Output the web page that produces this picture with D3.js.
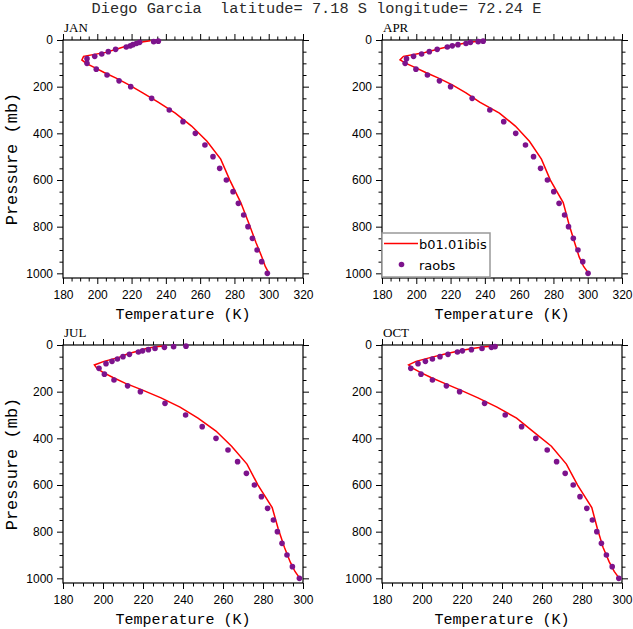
<!DOCTYPE html>
<html>
<head>
<meta charset="utf-8">
<script src="https://cdn.jsdelivr.net/npm/d3@7"></script>
<style>
  body { margin: 0; background: #fff; }
  .tick text { font-family: "Liberation Sans", sans-serif; font-size: 12px; fill: #000; }
</style>
</head>
<body>
<div id="chart"></div>
<script>
// raob pressure levels (mb)
var obsLevels = [5, 7, 10, 15, 20, 25, 30, 40, 50, 60, 70, 80, 100, 125, 150, 175, 200,
  250, 300, 350, 400, 450, 500, 550, 600, 650, 700, 750, 800, 850, 900, 950, 1000];

var janObs = [235.6, 232.9, 224.7, 222.8, 220.8, 219.3, 216.9, 210.7, 206.4, 202.6, 198.5, 194.0, 194.0, 199.4, 205.7, 212.7, 219.5,
  231.7, 242.0, 250.0, 257.2, 262.8, 267.5, 271.4, 275.3, 279.2, 282.3, 285.4, 287.9, 290.5, 293.2, 295.9, 299.2];
var aprObs = [239.0, 236.1, 231.6, 229.0, 224.3, 221.0, 218.1, 212.2, 207.6, 203.1, 198.4, 194.3, 193.5, 199.8, 206.5, 213.5, 220.0,
  232.6, 242.9, 251.0, 258.0, 263.7, 268.4, 272.5, 276.5, 280.2, 283.3, 286.5, 288.8, 291.6, 294.3, 297.1, 300.2];
var julObs = [241.5, 235.3, 230.7, 226.0, 222.7, 219.8, 217.7, 213.2, 210.0, 207.2, 204.5, 201.5, 198.0, 200.7, 205.5, 212.3, 218.7,
  231.0, 241.3, 249.6, 256.5, 262.5, 267.3, 271.7, 275.7, 279.2, 282.3, 285.2, 287.2, 289.5, 292.0, 294.7, 298.2];
var octObs = [null, 236.5, 234.7, 230.0, 224.7, 220.2, 217.7, 213.0, 209.0, 205.2, 201.7, 198.0, 194.4, 199.5, 205.2, 212.2, 218.8,
  231.3, 241.6, 249.8, 256.9, 262.6, 267.3, 271.6, 275.6, 279.0, 282.4, 285.2, 287.4, 289.7, 292.2, 295.1, 298.4];

// model levels (mb)
var modelLevels = [3.54, 7.39, 13.97, 23.94, 37.23, 53.11, 70.06, 85.44, 100.51, 118.25, 139.12, 163.66, 192.54,
  226.51, 266.48, 313.50, 368.82, 433.90, 510.46, 600.52, 696.80, 787.70, 867.16, 929.65, 970.55, 992.56];

var janModel = [231.0, 227.0, 222.5, 218.0, 212.0, 205.0, 192.0, 191.0, 193.5, 198.5, 204.0, 211.0, 218.5,
  226.5, 235.5, 245.5, 255.0, 264.0, 272.0, 277.3, 283.7, 288.5, 292.5, 296.0, 298.0, 299.6];
var aprModel = [239.5, 233.5, 228.0, 221.5, 213.5, 205.0, 192.5, 190.5, 194.0, 199.5, 205.5, 213.0, 221.0,
  229.0, 237.0, 248.5, 257.8, 266.0, 273.0, 278.2, 285.7, 289.0, 292.3, 295.0, 297.6, 299.8];
var julModel = [231.8, 226.5, 222.0, 218.5, 212.5, 208.0, 200.5, 195.7, 197.0, 200.2, 205.0, 211.0, 219.5,
  229.0, 238.5, 247.5, 256.5, 264.3, 272.0, 277.5, 284.6, 287.6, 290.7, 293.6, 296.0, 297.8];
var octModel = [238.0, 231.5, 226.0, 219.5, 212.0, 204.5, 197.0, 193.3, 195.5, 199.4, 204.5, 211.0, 219.0,
  228.0, 237.5, 247.3, 255.3, 264.7, 272.2, 277.8, 284.9, 287.7, 290.5, 293.6, 296.1, 298.0];

var monthNames = ["JAN", "APR", "JUL", "OCT"];
var xMaxes = [320, 320, 300, 300];
var seriesNames = ["b01.01ibis", "raobs"];
var titleText = "Diego Garcia  latitude= 7.18 S longitude= 72.24 E";

var svgWidth = 633;
var svgHeight = 629;
var panelW = 240;
var panelH = 238;
var lineColor = "#ff0000";
var dotColor = "#7d138c";

var svg = d3.select("#chart")
  .append("svg")
  .attr("width", svgWidth)
  .attr("height", svgHeight);

svg.append("text")
  .attr("x", 316.5)
  .attr("y", 13)
  .attr("text-anchor", "middle")
  .attr("font-family", "Liberation Mono, monospace")
  .attr("font-size", "15.3px")
  .attr("fill", "#2a2a2a")
  .style("white-space", "pre")
  .text(titleText);

var panels = [
  { obs: janObs, model: janModel, left: 63, top: 40 },
  { obs: aprObs, model: aprModel, left: 382, top: 40 },
  { obs: julObs, model: julModel, left: 63, top: 345 },
  { obs: octObs, model: octModel, left: 382, top: 345 }
];

panels.forEach(function(p, i) {
  var g = svg.append("g").attr("transform", `translate(${p.left}, ${p.top})`);
  var xMax = xMaxes[i];

  var x = d3.scaleLinear().domain([180, xMax]).range([0, panelW]);
  var y = d3.scaleLinear().domain([0, 1020]).range([0, panelH]);

  var xMajor = d3.range(180, xMax + 1, 20);
  var xMinor = d3.range(180, xMax + 1, 5).filter(d => d % 20 !== 0);
  var yMajor = d3.range(0, 1001, 200);
  var yMinor = d3.range(0, 1001, 50).filter(d => d % 200 !== 0);

  // minor ticks, all four sides
  g.append("g").attr("transform", `translate(0, ${panelH})`)
    .call(d3.axisBottom(x).tickValues(xMinor).tickSize(3.5).tickSizeOuter(0).tickFormat(""));
  g.append("g")
    .call(d3.axisTop(x).tickValues(xMinor).tickSize(3.5).tickSizeOuter(0).tickFormat(""));
  g.append("g")
    .call(d3.axisLeft(y).tickValues(yMinor).tickSize(3.5).tickSizeOuter(0).tickFormat(""));
  g.append("g").attr("transform", `translate(${panelW}, 0)`)
    .call(d3.axisRight(y).tickValues(yMinor).tickSize(3.5).tickSizeOuter(0).tickFormat(""));

  // major ticks
  g.append("g").attr("transform", `translate(0, ${panelH})`)
    .call(d3.axisBottom(x).tickValues(xMajor).tickSize(6).tickSizeOuter(0).tickPadding(6).tickFormat(d3.format("d")));
  g.append("g")
    .call(d3.axisTop(x).tickValues(xMajor).tickSize(6).tickSizeOuter(0).tickFormat(""));
  g.append("g")
    .call(d3.axisLeft(y).tickValues(yMajor).tickSize(6).tickSizeOuter(0).tickPadding(4).tickFormat(d3.format("d")));
  g.append("g").attr("transform", `translate(${panelW}, 0)`)
    .call(d3.axisRight(y).tickValues(yMajor).tickSize(6).tickSizeOuter(0).tickFormat(""));

  g.selectAll(".domain").remove();
  g.selectAll(".tick line").attr("stroke", "#000").attr("stroke-width", 1);

  g.append("rect")
    .attr("width", panelW).attr("height", panelH)
    .attr("fill", "none").attr("stroke", "#000").attr("stroke-width", 1.2);

  // model profile
  var line = d3.line()
    .x(d => x(d[1]))
    .y(d => y(d[0]));
  g.append("path")
    .datum(d3.zip(modelLevels, p.model))
    .attr("d", line)
    .attr("fill", "none")
    .attr("stroke", lineColor)
    .attr("stroke-width", 1.5);

  // raobs
  g.selectAll("circle.obs")
    .data(d3.zip(obsLevels, p.obs).filter(d => d[1] != null))
    .enter()
    .append("circle")
    .classed("obs", true)
    .attr("cx", d => x(d[1]))
    .attr("cy", d => y(d[0]))
    .attr("r", 2.8)
    .attr("fill", dotColor);

  // month label
  g.append("text")
    .attr("x", 1).attr("y", -8)
    .attr("font-family", "Liberation Serif, serif")
    .attr("font-size", "13px")
    .text(monthNames[i]);

  // axis titles
  g.append("text")
    .attr("x", panelW / 2).attr("y", panelH + 41)
    .attr("text-anchor", "middle")
    .attr("font-family", "Liberation Mono, monospace")
    .attr("font-size", "15px")
    .text("Temperature (K)");

  if (i % 2 === 0) {
    g.append("text")
      .attr("transform", `translate(-46, ${panelH / 2}) rotate(-90)`)
      .attr("text-anchor", "middle")
      .attr("font-family", "Liberation Mono, monospace")
      .attr("font-size", "17px")
      .text("Pressure (mb)");
  }

  // legend on the APR panel
  if (i === 1) {
    var lg = g.append("g").attr("transform", `translate(0, ${panelH - 45})`);
    lg.append("rect")
      .attr("width", 108).attr("height", 44)
      .attr("fill", "#fff").attr("stroke", "#999").attr("stroke-width", 1.5);
    lg.append("line")
      .attr("x1", 2).attr("x2", 36).attr("y1", 10.5).attr("y2", 10.5)
      .attr("stroke", lineColor).attr("stroke-width", 1.5);
    lg.append("text")
      .attr("x", 37).attr("y", 15.5)
      .attr("font-family", "DejaVu Sans, sans-serif")
      .attr("font-size", "13px")
      .text(seriesNames[0]);
    lg.append("circle")
      .attr("cx", 19.5).attr("cy", 31.5).attr("r", 2.8)
      .attr("fill", dotColor);
    lg.append("text")
      .attr("x", 37).attr("y", 36.5)
      .attr("font-family", "DejaVu Sans, sans-serif")
      .attr("font-size", "13px")
      .text(seriesNames[1]);
  }
});
</script>
</body>
</html>
